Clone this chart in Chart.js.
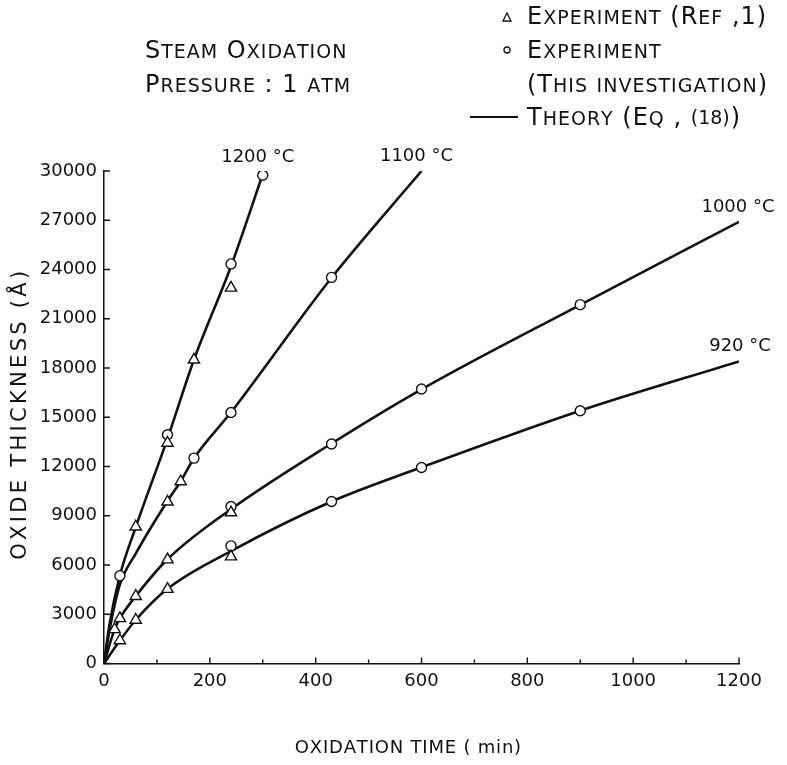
<!DOCTYPE html>
<html>
<head>
<meta charset="utf-8">
<script src="https://cdn.jsdelivr.net/npm/chart.js@4.4.1/dist/chart.umd.min.js"></script>
<style>
    html, body { margin: 0; padding: 0; background: #fff; }
    canvas { display: block; }
</style>
</head>
<body>
<canvas id="oxChart" width="787" height="765"></canvas>
<script>
// time in min, oxide thickness in angstrom

// theory curves, Eq. (18)
const theoryTime1200 = [0, 10, 30, 60, 120, 170, 240, 300];
const theoryThk1200  = [0, 2300, 5350, 8300, 13700, 18500, 24200, 29800];
const theoryTime1100 = [0, 12, 30, 60, 120, 145, 170, 240, 430, 600];
const theoryThk1100  = [0, 2300, 4800, 6700, 9900, 11100, 12500, 15300, 23500, 30000];
const theoryTime1000 = [0, 20, 30, 60, 120, 240, 430, 600, 900, 1200];
const theoryThk1000  = [0, 2080, 2750, 4100, 6350, 9400, 13400, 16700, 21850, 26900];
const theoryTime920  = [0, 30, 60, 120, 240, 430, 600, 900, 1200];
const theoryThk920   = [0, 1400, 2650, 4550, 6850, 9870, 11950, 15400, 18400];

// experiment, Ref. 1 (triangles)
const refTime1200 = [60, 120, 170, 240];
const refThk1200  = [8330, 13430, 18500, 22880];
const refTime1100 = [120, 145];
const refThk1100  = [9850, 11085];
const refTime1000 = [20, 30, 60, 120, 240];
const refThk1000  = [2080, 2750, 4100, 6330, 9195];
const refTime920  = [30, 60, 120, 240];
const refThk920   = [1400, 2650, 4530, 6510];

// experiment, this investigation (circles)
const ownTime1200 = [30, 120, 240, 300];
const ownThk1200  = [5350, 13930, 24340, 29740];
const ownTime1100 = [170, 240, 430];
const ownThk1100  = [12510, 15290, 23520];
const ownTime1000 = [240, 430, 600, 900];
const ownThk1000  = [9560, 13370, 16720, 21860];
const ownTime920  = [240, 430, 600, 900];
const ownThk920   = [7165, 9870, 11940, 15400];

const curveLabels = ['1200 °C', '1100 °C', '1000 °C', '920 °C'];
const xTicks = [0, 200, 400, 600, 800, 1000, 1200];
const yTicks = [0, 3000, 6000, 9000, 12000, 15000, 18000, 21000, 24000, 27000, 30000];
const xTitle = 'OXIDATION TIME ( min)';
const yTitle = 'OXIDE THICKNESS (Å)';

const FONT = '"DejaVu Sans", sans-serif';
const INK = '#111';

function pts(xs, ys) {
    return xs.map((x, i) => ({ x: x, y: ys[i] }));
}

const triangles = [].concat(
    pts(refTime1200, refThk1200), pts(refTime1100, refThk1100),
    pts(refTime1000, refThk1000), pts(refTime920, refThk920));
const circles = [].concat(
    pts(ownTime1200, ownThk1200), pts(ownTime1100, ownThk1100),
    pts(ownTime1000, ownThk1000), pts(ownTime920, ownThk920));

function curve(xs, ys) {
    return {
        data: pts(xs, ys),
        showLine: true,
        borderColor: INK,
        borderWidth: 2.6,
        pointRadius: 0,
        cubicInterpolationMode: 'monotone'
    };
}

// draws "Small Caps" text: lower case letters become smaller capitals
function smallCaps(ctx, str, x, y, big, small) {
    let cx = x;
    for (const ch of str) {
        const lower = ch !== ch.toUpperCase();
        ctx.font = (lower ? small : big) + 'px ' + FONT;
        const c = ch.toUpperCase();
        ctx.fillText(c, cx, y);
        cx += ctx.measureText(c).width + 1;
    }
    return cx;
}

// text with extra spacing between letters, centred on x
function spaced(ctx, str, x, y, gap) {
    let w = 0;
    for (const ch of str) w += ctx.measureText(ch).width + gap;
    w -= gap;
    let cx = x - w / 2;
    for (const ch of str) {
        ctx.fillText(ch, cx, y);
        cx += ctx.measureText(ch).width + gap;
    }
}

const extrasPlugin = {
    id: 'extras',
    afterDraw(chart) {
        const ctx = chart.ctx;
        const xs = chart.scales.x, ys = chart.scales.y;
        const x0 = xs.getPixelForValue(0), y0 = ys.getPixelForValue(0);
        ctx.save();
        ctx.strokeStyle = INK;
        ctx.fillStyle = INK;
        ctx.lineWidth = 1.4;

        // inward tick marks
        ctx.beginPath();
        yTicks.forEach(v => {
            const py = ys.getPixelForValue(v);
            ctx.moveTo(x0, py);
            ctx.lineTo(x0 + 6, py);
        });
        for (let t = 100; t <= 1200; t += 100) {
            const px = xs.getPixelForValue(t);
            ctx.moveTo(px, y0);
            ctx.lineTo(px, y0 - (t % 200 === 0 ? 6 : 4));
        }
        ctx.stroke();

        // temperature labels at the end of each curve
        const ends = [
            [theoryTime1200, theoryThk1200, -5, -17],
            [theoryTime1100, theoryThk1100, -5, -15],
            [theoryTime1000, theoryThk1000, -1, -15],
            [theoryTime920, theoryThk920, 1, -15]
        ];
        ctx.font = '18px ' + FONT;
        ctx.textAlign = 'center';
        ctx.textBaseline = 'middle';
        ends.forEach((e, i) => {
            const n = e[0].length - 1;
            const px = xs.getPixelForValue(e[0][n]);
            const py = ys.getPixelForValue(e[1][n]);
            ctx.fillText(curveLabels[i], px + e[2], py + e[3]);
        });

        // axis titles
        ctx.textAlign = 'left';
        ctx.font = '18px ' + FONT;
        spaced(ctx, xTitle, 408, 748, 0.8);
        ctx.save();
        ctx.translate(21, (ys.top + ys.bottom) / 2 - 2);
        ctx.rotate(-Math.PI / 2);
        ctx.font = '21px ' + FONT;
        spaced(ctx, yTitle, 0, 0, 3.3);
        ctx.restore();

        // conditions
        ctx.textBaseline = 'alphabetic';
        smallCaps(ctx, 'Steam Oxidation', 145, 58, 24, 19);
        smallCaps(ctx, 'Pressure : 1 atm', 145, 92, 24, 19);

        // key
        const kx = 507;
        ctx.lineWidth = 1.3;
        ctx.beginPath();
        ctx.moveTo(kx - 4, 21);
        ctx.lineTo(kx + 4, 21);
        ctx.lineTo(kx, 13);
        ctx.closePath();
        ctx.stroke();
        smallCaps(ctx, 'Experiment (Ref ,1)', 527, 24, 24, 19);
        ctx.beginPath();
        ctx.arc(kx, 50, 3, 0, Math.PI * 2);
        ctx.stroke();
        smallCaps(ctx, 'Experiment', 527, 58, 24, 19);
        smallCaps(ctx, '(This investigation)', 527, 92, 24, 19);
        ctx.lineWidth = 2;
        ctx.beginPath();
        ctx.moveTo(470, 117);
        ctx.lineTo(518, 117);
        ctx.stroke();
        let cx = smallCaps(ctx, 'Theory (Eq , ', 527, 125, 24, 19);
        ctx.font = '19px ' + FONT;
        ctx.fillText('(18)', cx, 124);
        cx += ctx.measureText('(18)').width + 1;
        ctx.font = '24px ' + FONT;
        ctx.fillText(')', cx, 125);

        ctx.restore();
    }
};

new Chart(document.getElementById('oxChart'), {
    type: 'scatter',
    data: {
        datasets: [
            {
                data: triangles,
                pointStyle: 'triangle',
                pointRadius: 6.5,
                backgroundColor: '#fff',
                borderColor: INK,
                borderWidth: 1.4
            },
            {
                data: circles,
                pointStyle: 'circle',
                pointRadius: 5,
                backgroundColor: '#fff',
                borderColor: INK,
                borderWidth: 1.4
            },
            curve(theoryTime1200, theoryThk1200),
            curve(theoryTime1100, theoryThk1100),
            curve(theoryTime1000, theoryThk1000),
            curve(theoryTime920, theoryThk920)
        ]
    },
    options: {
        responsive: false,
        devicePixelRatio: 1,
        animation: false,
        layout: { padding: { left: 0, top: 171, right: 48, bottom: 0 } },
        plugins: {
            legend: { display: false },
            tooltip: { enabled: false }
        },
        scales: {
            x: {
                type: 'linear',
                min: 0,
                max: 1200,
                afterBuildTicks: s => { s.ticks = xTicks.map(v => ({ value: v })); },
                afterFit: s => { s.height = 101.5; },
                grid: { display: false, drawTicks: false },
                border: { display: true, color: INK, width: 1.5 },
                ticks: {
                    color: INK,
                    font: { family: FONT, size: 18 },
                    padding: 7,
                    maxRotation: 0,
                    callback: v => String(v)
                }
            },
            y: {
                type: 'linear',
                min: 0,
                max: 30000,
                afterBuildTicks: s => { s.ticks = yTicks.map(v => ({ value: v })); },
                afterFit: s => { s.width = 104; },
                grid: { display: false, drawTicks: false },
                border: { display: true, color: INK, width: 1.5 },
                ticks: {
                    color: INK,
                    font: { family: FONT, size: 18 },
                    padding: 7,
                    callback: v => String(v)
                }
            }
        }
    },
    plugins: [extrasPlugin]
});
</script>
</body>
</html>
